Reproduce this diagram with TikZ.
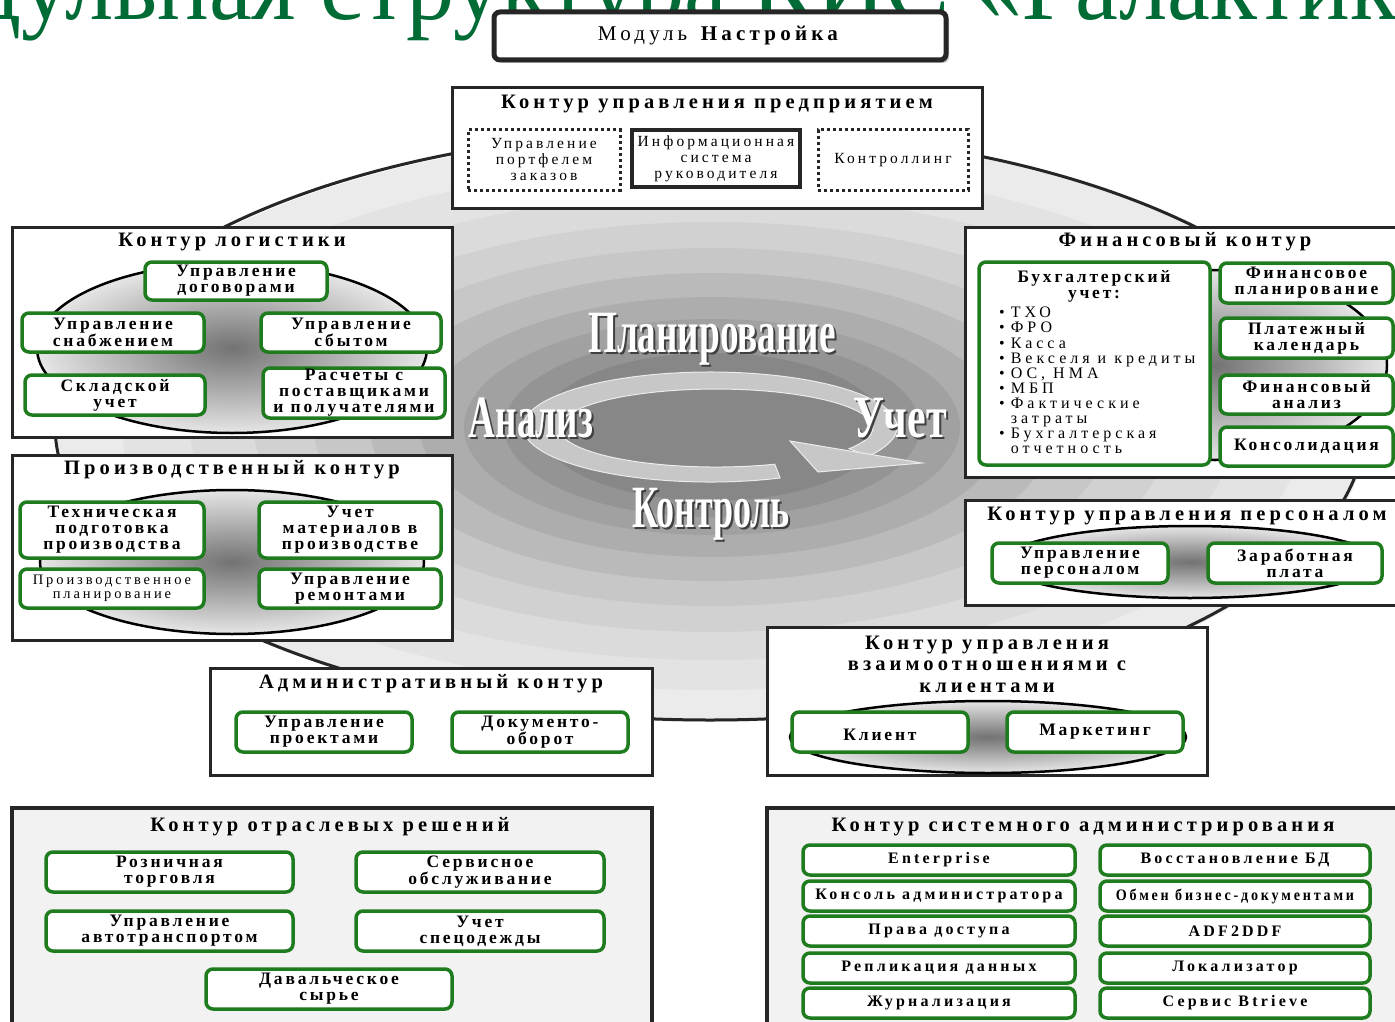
\documentclass[tikz,border=0pt]{standalone}
\usepackage{fontspec}
\setmainfont{Liberation Serif}
\newfontfamily\spfont[LetterSpace=20]{Liberation Serif}
\newfontfamily\spfontb[LetterSpace=16]{Liberation Serif}
\newfontfamily\spfontc[LetterSpace=25]{Liberation Serif}
\usetikzlibrary{shadows}
\definecolor{gtitle}{HTML}{006B35}
\definecolor{gbord}{HTML}{1E7B1E}
\definecolor{cbord}{HTML}{262626}
\newcommand\cttl{\spfont\bfseries\fontsize{20.5}{21.5}\selectfont}
\newcommand\cbx{\spfontb\bfseries\fontsize{17.5}{16}\selectfont}
\newcommand\cbn{\spfont\fontsize{15.5}{16}\selectfont}
\newcommand\cbs{\spfont\bfseries\fontsize{16}{16}\selectfont}
\begin{document}
\begin{tikzpicture}[x=1pt,y=-1pt,
  contour/.style={draw=cbord, line width=3pt, fill=white, inner sep=0pt},
  gbox/.style={draw=gbord, line width=3.5pt, rounded corners=7pt, fill=white, align=center, inner sep=0pt, font=\cbx},
  sbox/.style={gbox, font=\cbs, minimum height=30pt},
  dotbox/.style={draw=black!85, line width=3pt, dash pattern=on 3pt off 3pt, fill=white, inner sep=0pt, align=center, font=\cbn},
  ttl/.style={font=\cttl, align=center, inner sep=0pt},
  bigword/.style={font=\bfseries\fontsize{60}{60}\selectfont, inner sep=0pt, anchor=base},
  lens/.style={inner color=black!55, outer color=black!10},
  lensline/.style={draw=black, line width=2.5pt},
]
\useasboundingbox (0,0) rectangle (1395,1022);
\fill[white] (0,0) rectangle (1395,1022);

% heading (partly outside the picture)
\node[anchor=base west, inner sep=0pt, text=gtitle, font=\fontsize{100}{100}\selectfont] (head) at (-157,20) {\scalebox{0.965}[1]{Модульная структура КИС «Галактика»}};

% big background ellipse with rings
\foreach \rx/\ry/\g in {655/295/8, 590/263/11, 522/233/14, 458/205/18, 398/179/22, 342/154/27, 292/130/32, 248/108/37, 208/90/42, 172/74/47}{
  \fill[black!\g] (712,427) ellipse [x radius=\rx, y radius=\ry];
}
\draw[line width=3pt, black!85] (710,425) ellipse [x radius=655, y radius=295];

% circular arrow
\fill[black!22, draw=black!8, line width=1pt] (780.1,478) arc[start angle=68, end angle=392, x radius=187, y radius=55]
  -- (849.1,448.7) arc[start angle=392, end angle=68, x radius=157, y radius=39] -- cycle;
\fill[black!22, draw=black!8, line width=1pt] (790,441) -- (922,463) -- (818,472) -- cycle;

% embossed words
\node[bigword, text=black!75] (plan-s) at (714,354) {\scalebox{0.62}[1]{Планирование}};
\node[bigword, text=white] (plan) at (712,352) {\scalebox{0.62}[1]{Планирование}};
\node[bigword, text=black!75] (anal-s) at (533,439) {\scalebox{0.62}[1]{Анализ}};
\node[bigword, text=white] (anal) at (531,437) {\scalebox{0.62}[1]{Анализ}};
\node[bigword, text=black!75] (uch-s) at (902,439) {\scalebox{0.7}[1]{Учет}};
\node[bigword, text=white] (uch) at (900,437) {\scalebox{0.7}[1]{Учет}};
\node[bigword, text=black!75] (kontr-s) at (713,529) {\scalebox{0.6}[1]{Контроль}};
\node[bigword, text=white] (kontr) at (711,527) {\scalebox{0.6}[1]{Контроль}};

% Модуль Настройка
\node[draw=cbord, line width=5pt, rounded corners=6pt, fill=white, minimum width=452pt, minimum height=48pt,
  drop shadow={shadow xshift=3pt, shadow yshift=-3pt, fill=black!45}, font=\spfont\fontsize{21}{21}\selectfont] (nast) at (720,36) {Модуль \textbf{Настройка}};

% Контур управления предприятием
\node[contour, minimum width=530pt, minimum height=120pt] (pred) at (717,148) {};
\node[ttl] (pred-t) at (717,104) {Контур управления предприятием};
\node[dotbox, minimum width=152pt, minimum height=60pt] (ppor) at (544,160) {Управление\\портфелем\\заказов};
\node[draw=cbord, line width=3.5pt, fill=white, inner sep=0pt, align=center, font=\cbn, minimum width=168pt, minimum height=57pt] (pis) at (716,158.5) {Информационная\\система\\руководителя};
\node[dotbox, minimum width=150pt, minimum height=60pt] (pkon) at (893,160) {Контроллинг};

% Контур логистики
\node[contour, minimum width=440pt, minimum height=210pt] (log) at (232,332) {};
\node[ttl] (log-t) at (232,242) {Контур логистики};
\shade[lens] (232,348) ellipse [x radius=195, y radius=85];
\draw[lensline] (232,348) ellipse [x radius=195, y radius=85];
\node[gbox, minimum width=182pt, minimum height=38pt] (ldog) at (236,281) {Управление\\договорами};
\node[gbox, minimum width=182pt, minimum height=39pt] (lsnab) at (113,332.5) {Управление\\снабжением};
\node[gbox, minimum width=180pt, minimum height=39pt] (lsbyt) at (351,332.5) {Управление\\сбытом};
\node[gbox, minimum width=180pt, minimum height=40pt] (lskl) at (115,395) {Складской\\учет};
\node[gbox, minimum width=182pt, minimum height=50pt] (lras) at (354,393) {Расчеты с\\поставщиками\\и получателями};

% Производственный контур
\node[contour, minimum width=440pt, minimum height=185pt] (prod) at (232,547.5) {};
\node[ttl] (prod-t) at (232,470) {Производственный контур};
\shade[lens] (232,562) ellipse [x radius=192, y radius=72];
\draw[lensline] (232,562) ellipse [x radius=192, y radius=72];
\node[gbox, minimum width=184pt, minimum height=56pt] (ptech) at (112,530) {Техническая\\подготовка\\производства};
\node[gbox, minimum width=182pt, minimum height=56pt] (puch) at (350,530) {Учет\\материалов в\\производстве};
\node[gbox, minimum width=184pt, minimum height=39pt, font=\spfont\fontsize{14.5}{14.5}\selectfont] (pplan) at (112,588.5) {Производственное\\планирование};
\node[gbox, minimum width=182pt, minimum height=39pt] (prem) at (350,588.5) {Управление\\ремонтами};

% Финансовый контур
\node[contour, minimum width=440pt, minimum height=250pt] (fin) at (1185,352) {};
\node[ttl] (fin-t) at (1185,242) {Финансовый контур};
\shade[lens] (1215,365) ellipse [x radius=172, y radius=95];
\draw[lensline] (1215,365) ellipse [x radius=172, y radius=95];
\node[gbox, minimum width=231pt, minimum height=203pt] (fbuh) at (1094.5,363.5) {};
\node[font=\cbx, align=center, inner sep=0pt] (fbuh-t) at (1094,286) {Бухгалтерский\\учет:};
\node[anchor=north west, inner sep=0pt, font=\spfontc\fontsize{16}{15.1}\selectfont] (blist) at (999,307) {%
  \begin{tabular}{@{}l@{\hspace{6pt}}l@{}}
  \textbullet & ТХО\\
  \textbullet & ФРО\\
  \textbullet & Касса\\
  \textbullet & Векселя и кредиты\\
  \textbullet & ОС, НМА\\
  \textbullet & МБП\\
  \textbullet & Фактические\\
   & затраты\\
  \textbullet & Бухгалтерская\\
   & отчетность
  \end{tabular}};
\node[gbox, minimum width=173pt, minimum height=40pt] (ffp) at (1306.5,283) {Финансовое\\планирование};
\node[gbox, minimum width=173pt, minimum height=40pt] (fpk) at (1306.5,338) {Платежный\\календарь};
\node[gbox, minimum width=173pt, minimum height=39pt] (ffa) at (1306.5,394.5) {Финансовый\\анализ};
\node[gbox, minimum width=173pt, minimum height=39pt] (fkon) at (1306.5,446.5) {Консолидация};

% Контур управления персоналом
\node[contour, minimum width=440pt, minimum height=105pt] (pers) at (1185,552.5) {};
\node[ttl] (pers-t) at (1187,516) {Контур управления персоналом};
\shade[lens] (1190,562) ellipse [x radius=188, y radius=36];
\draw[lensline] (1190,562) ellipse [x radius=188, y radius=36];
\node[gbox, minimum width=176pt, minimum height=40pt] (pupr) at (1080,563) {Управление\\персоналом};
\node[gbox, minimum width=174pt, minimum height=40pt] (pzar) at (1295,563) {Заработная\\плата};

% Контур управления взаимоотношениями с клиентами
\node[contour, minimum width=440pt, minimum height=148pt] (crm) at (987,701) {};
\node[ttl] (crm-t) at (987,664) {Контур управления\\взаимоотношениями с\\клиентами};
\shade[lens] (988,737) ellipse [x radius=198, y radius=36];
\draw[lensline] (988,737) ellipse [x radius=198, y radius=36];
\node[gbox, minimum width=176pt, minimum height=40pt, text depth=0pt] (ckl) at (880,732) {\raisebox{-5pt}{Клиент}};
\node[gbox, minimum width=176pt, minimum height=40pt] (cmar) at (1095,732) {Маркетинг};

% Административный контур
\node[contour, minimum width=442pt, minimum height=107pt] (adm) at (431,721.5) {};
\node[ttl] (adm-t) at (431,684) {Административный контур};
\node[gbox, minimum width=176pt, minimum height=40pt] (aupr) at (324,732) {Управление\\проектами};
\node[gbox, minimum width=176pt, minimum height=40pt] (adoc) at (540,732) {Документо-\\оборот};

% Контур отраслевых решений
\node[contour, fill=black!5, line width=4pt, minimum width=640pt, minimum height=222pt] (otr) at (332,919) {};
\node[ttl] (otr-t) at (330,827) {Контур отраслевых решений};
\node[gbox, minimum width=247pt, minimum height=40pt] (orozn) at (169.5,872) {Розничная\\торговля};
\node[gbox, minimum width=248pt, minimum height=40pt] (oserv) at (480,872) {Сервисное\\обслуживание};
\node[gbox, minimum width=247pt, minimum height=40pt] (oavto) at (169.5,931) {Управление\\автотранспортом};
\node[gbox, minimum width=248pt, minimum height=40pt] (ospec) at (480,931) {Учет\\спецодежды};
\node[gbox, minimum width=246pt, minimum height=40pt] (odav) at (329,989) {Давальческое\\сырье};

% Контур системного администрирования
\node[contour, fill=black!5, line width=4pt, minimum width=633pt, minimum height=222pt] (sys) at (1083,919) {};
\node[ttl] (sys-t) at (1083,827) {Контур системного администрирования};
\node[sbox, minimum width=272pt] (s1) at (939,860) {Enterprise};
\node[sbox, minimum width=272pt] (s2) at (939,896) {Консоль администратора};
\node[sbox, minimum width=272pt] (s3) at (939,931) {Права доступа};
\node[sbox, minimum width=272pt] (s4) at (939,968) {Репликация данных};
\node[sbox, minimum width=272pt] (s5) at (939,1003) {Журнализация};
\node[sbox, minimum width=270pt] (s6) at (1235,860) {Восстановление БД};
\node[sbox, minimum width=270pt] (s7) at (1235,896) {\scalebox{0.88}[1]{Обмен бизнес-документами}};
\node[sbox, minimum width=270pt] (s8) at (1235,931) {ADF2DDF};
\node[sbox, minimum width=270pt] (s9) at (1235,968) {Локализатор};
\node[sbox, minimum width=270pt] (s10) at (1235,1003) {Сервис Btrieve};
\end{tikzpicture}
\end{document}
